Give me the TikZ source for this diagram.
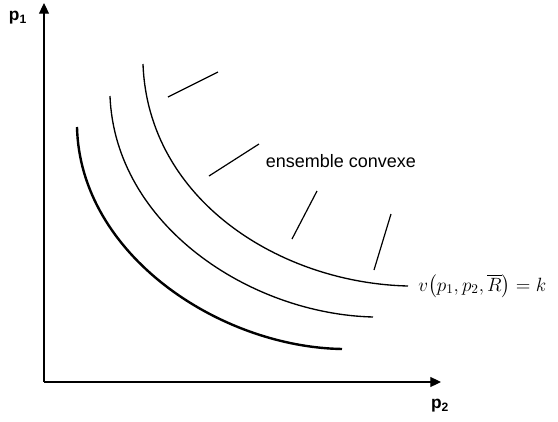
\documentclass[tikz,border=0pt]{standalone}
\usepackage{amsmath}
\usepackage{fontspec}
\setmainfont{Liberation Sans}
\usetikzlibrary{arrows.meta}

\begin{document}
\begin{tikzpicture}[x=0.75pt, y=-0.75pt, font=\fontsize{13.5}{16}\selectfont]
        \useasboundingbox (0,0) rectangle (558,422);
        % axes
        \coordinate (O) at (44,382);
        \coordinate (ytip) at (44,3);
        \coordinate (xtip) at (441,382);
        \draw[thick, -{Triangle[length=8pt, width=7.5pt]}] (O) -- (ytip);
        \draw[thick, -{Triangle[length=8pt, width=7.5pt]}] (O) -- (xtip);
        \node[font=\fontsize{13}{15}\selectfont\bfseries] (p1) at (18,18) {p\textsubscript{1}};
        \node[font=\fontsize{13}{15}\selectfont\bfseries] (p2) at (440,406) {p\textsubscript{2}};
        % indifference curves
        \draw[line width=1pt] (143,64) .. controls (148,200) and (280,283) .. (408,286);
        \draw[line width=1pt] (110,96) .. controls (115,225) and (250,314) .. (373,317);
        \draw[line width=1.8pt] (77,127) .. controls (80,255) and (220,347) .. (342,349);
        % hatching
        \foreach \ax/\ay/\bx/\by in {168/97/218/72, 209/176/259/144,
                                     292/239/317/191, 374/270/391/214}{
          \draw[line width=0.9pt] (\ax,\ay) -- (\bx,\by);
        }
        \node (convexe) at (341,161) {ensemble convexe};
        \node[anchor=base west, inner sep=0pt, font=\fontsize{14.5}{17}\selectfont] (vk) at (418,291)
          {$v\bigl(p_1,p_2,\overline{R}\bigr)=k$};
      \end{tikzpicture}
\end{document}
